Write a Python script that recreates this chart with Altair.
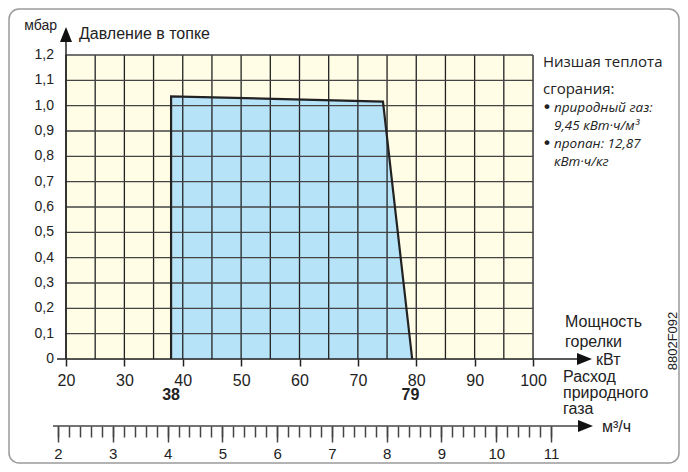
import altair as alt
import pandas as pd

# ---------------- data ----------------
kw_ticks = [20, 30, 40, 50, 60, 70, 80, 90, 100]
mbar_ticks = [0.0, 0.1, 0.2, 0.3, 0.4, 0.5, 0.6, 0.7, 0.8, 0.9, 1.0, 1.1, 1.2]
mbar_labels = ["0", "0,1", "0,2", "0,3", "0,4", "0,5", "0,6", "0,7", "0,8", "0,9",
               "1,0", "1,1", "1,2"]
grid_kw = [20, 25, 30, 35, 40, 45, 50, 55, 60, 65, 70, 75, 80, 85, 90, 95, 100]
grid_mbar = [0.1, 0.2, 0.3, 0.4, 0.5, 0.6, 0.7, 0.8, 0.9, 1.0, 1.1, 1.2]
poly_kw = [38, 38, 74.3, 79.3]
poly_mbar = [0.0, 1.037, 1.016, 0.0]
range_marks = [38, 79]
m3_major = [2, 3, 4, 5, 6, 7, 8, 9, 10, 11]
m3_minor = [round(2 + 0.2 * i, 1) for i in range(46)]

# ---------------- layout ----------------
# page pixel anchors of the plot area (page has an 8px margin)
PL, PR, PT, PB = 66, 533, 55, 359
W, H = PR - PL, PB - PT
PAD = {"left": PL - 8, "top": PT - 8, "right": 680 - PR, "bottom": 464 - PB}
PX_KW = W / 80.0
PX_MBAR = H / 1.2
M3_2, M3_11 = 58, 551          # page x of 2 and 11 m3/h


def kw_at(px):
    return 20 + (px - PL) / PX_KW


def mbar_at(py):
    return (PB - py) / PX_MBAR


def m3_at(px):
    return 2 + (px - M3_2) * 9.0 / (M3_11 - M3_2)


xs = alt.Scale(domain=[20, 100], nice=False, zero=False)
ys = alt.Scale(domain=[0, 1.2], nice=False, zero=False)
ms = alt.Scale(domain=[2, 11], range=[M3_2 - PL, M3_11 - PL], nice=False, zero=False)

YELLOW = "#FFFDE6"
BLUE = "#B7E3F8"
DARK = "#222222"
FONT = "Liberation Sans"
NOTE_FONT = "Open Sans"

x_axis = alt.Axis(orient="bottom", values=kw_ticks, domain=False, zindex=1,
                  ticks=True, tickSize=7, tickColor=DARK, tickWidth=1.5, grid=False,
                  title=None, labelFont=FONT, labelFontSize=16, labelColor=DARK,
                  labelPadding=6, labelFlush=False, labelOverlap=False)
m_axis = alt.Axis(orient="bottom", offset=426 - PB, values=m3_major, domain=False, zindex=1,
                  ticks=True, tickColor="#444444", tickWidth=1.5, tickSize=16,
                  grid=False, title=None, labelFont=FONT, labelFontSize=15,
                  labelColor=DARK, labelPadding=4, labelFlush=False, labelOverlap=False)
m_minor_axis = alt.Axis(orient="bottom", offset=426 - PB, values=m3_minor, domain=False,
                        zindex=1, ticks=True, tickColor="#444444", tickWidth=1.5,
                        tickSize=11, labels=False, grid=False, title=None)

X = lambda f, axis=None: alt.X(f, type="quantitative", scale=xs, axis=axis)
Y = lambda f, axis=None: alt.Y(f, type="quantitative", scale=ys, axis=axis)
M = lambda f, axis=None: alt.X(f, type="quantitative", scale=ms, axis=axis)

# outer rounded frame
frame = alt.Chart(pd.DataFrame({"x": [kw_at(9)], "x2": [kw_at(679)],
                                "y": [mbar_at(9)], "y2": [mbar_at(463)]})).mark_rect(
    fill=None, stroke="#9a9a9a", strokeWidth=1.5, cornerRadius=10).encode(
    x=X("x"), x2="x2", y=Y("y"), y2="y2")

# plot-area background (carries the main x axis)
bg = alt.Chart(pd.DataFrame({"x": [20], "x2": [100], "y": [0.0], "y2": [1.2]})).mark_rect(
    fill=YELLOW).encode(x=X("x", x_axis), x2="x2", y=Y("y"), y2="y2")

poly = pd.DataFrame({"kw": poly_kw, "mbar": poly_mbar, "o": [0, 1, 2, 3]})
area = alt.Chart(poly.iloc[1:]).mark_area(fill=BLUE, opacity=1).encode(
    x=X("kw"), y=Y("mbar"), y2=alt.datum(0))

gv = alt.Chart(pd.DataFrame({"kw": grid_kw, "a": 0.0, "b": 1.2})).mark_rule(
    color=DARK, strokeWidth=1.3).encode(x=X("kw"), y=Y("a"), y2="b")
gh = alt.Chart(pd.DataFrame({"mbar": grid_mbar, "a": 20, "b": 100})).mark_rule(
    color="#444444", strokeWidth=1.3).encode(y=Y("mbar"), x=X("a"), x2="b")

outline = alt.Chart(poly).mark_line(color=DARK, strokeWidth=2.2).encode(
    x=X("kw"), y=Y("mbar"), order="o:Q")

axes_df = pd.DataFrame({"x": [kw_at(57), 20], "x2": [kw_at(578), 20],
                        "y": [0.0, 0.0], "y2": [0.0, mbar_at(40)]})
axlines = alt.Chart(axes_df).mark_rule(color=DARK, strokeWidth=1.5).encode(
    x=X("x"), x2="x2", y=Y("y"), y2="y2")

RIGHT_ARROW = "M1,0L-1,0.8L-1,-0.8Z"
UP_ARROW = "M0,-1L0.8,1L-0.8,1Z"
arr_r = alt.Chart(pd.DataFrame({"x": [kw_at(584.5)], "y": [0.0]})).mark_point(
    shape=RIGHT_ARROW, size=225, filled=True, color="#111111", opacity=1).encode(
    x=X("x"), y=Y("y"))
arr_u = alt.Chart(pd.DataFrame({"x": [20], "y": [mbar_at(34.5)]})).mark_point(
    shape=UP_ARROW, size=225, filled=True, color="#111111", opacity=1).encode(
    x=X("x"), y=Y("y"))

# y tick labels (comma decimals)
ylab = alt.Chart(pd.DataFrame({"mbar": mbar_ticks, "t": mbar_labels,
                               "x": kw_at(54)})).mark_text(
    font=FONT, fontSize=14, color=DARK, align="right", baseline="middle").encode(
    x=X("x"), y=Y("mbar"), text="t:N")

rng = alt.Chart(pd.DataFrame({"kw": range_marks, "y": mbar_at(395),
                              "t": [str(v) for v in range_marks]})).mark_text(
    font=FONT, fontSize=16, fontWeight="bold", color=DARK, baseline="middle").encode(
    x=X("kw"), y=Y("y"), text="t:N")


def texts(rows, **kw):
    df = pd.DataFrame(rows, columns=["px", "py", "t"])
    df["x"] = df["px"].map(kw_at)
    df["y"] = df["py"].map(mbar_at)
    return alt.Chart(df).mark_text(baseline="middle", **kw).encode(
        x=X("x"), y=Y("y"), text="t:N")


t_mbar = texts([(57, 26, "мбар")], font=FONT, fontSize=14, align="right", color=DARK)
t_left = texts([
    (79, 34, "Давление в топке"),
    (565, 322, "Мощность"), (565, 342, "горелки"), (596, 360, "кВт"),
    (563, 377, "Расход"), (563, 393, "природного"), (563, 409, "газа"),
    (602, 427, "м³/ч"),
], font=FONT, fontSize=16, align="left", color=DARK)
t_note = texts([(543, 62, "Низшая теплота"), (543, 89, "сгорания:")],
               font=NOTE_FONT, fontSize=15, align="left", color=DARK)
t_bul = texts([(547, 107, "•"), (547, 143, "•")],
              font=FONT, fontSize=17, fontWeight="bold", align="center", color=DARK)
t_it = texts([(554, 108, "природный газ:"), (554, 126, "9,45 кВт·ч/м³"),
              (554, 144, "пропан: 12,87"), (554, 162, "кВт·ч/кг")],
             font=NOTE_FONT, fontSize=13.5, fontStyle="italic", align="left", color=DARK)
t_code = texts([(673, 341, "8802F092")], font=FONT, fontSize=13, align="center",
               angle=270, color=DARK)

# natural gas flow axis (m3/h)
m_line = alt.Chart(pd.DataFrame({"x": [m3_at(53)], "x2": [m3_at(579)],
                                 "y": [mbar_at(426)]})).mark_rule(
    color="#444444", strokeWidth=1.5).encode(x=M("x", m_axis), x2="x2", y=Y("y"))
m_arrow = alt.Chart(pd.DataFrame({"x": [m3_at(585.5)], "y": [mbar_at(426)]})).mark_point(
    shape=RIGHT_ARROW, size=225, filled=True, color="#111111", opacity=1).encode(
    x=M("x", m_minor_axis), y=Y("y"))

chart = alt.layer(
    frame, bg, area, gv, gh, outline, axlines, arr_r, arr_u, ylab, rng,
    t_mbar, t_left, t_note, t_bul, t_it, t_code, m_line, m_arrow
).resolve_scale(x="independent").resolve_axis(x="independent").properties(
    width=W, height=H, autosize=alt.AutoSizeParams(type="none"), padding=PAD
).configure_view(strokeWidth=0).configure(font=FONT)

chart.save("out.html", embed_options={"renderer": "svg", "actions": False})
